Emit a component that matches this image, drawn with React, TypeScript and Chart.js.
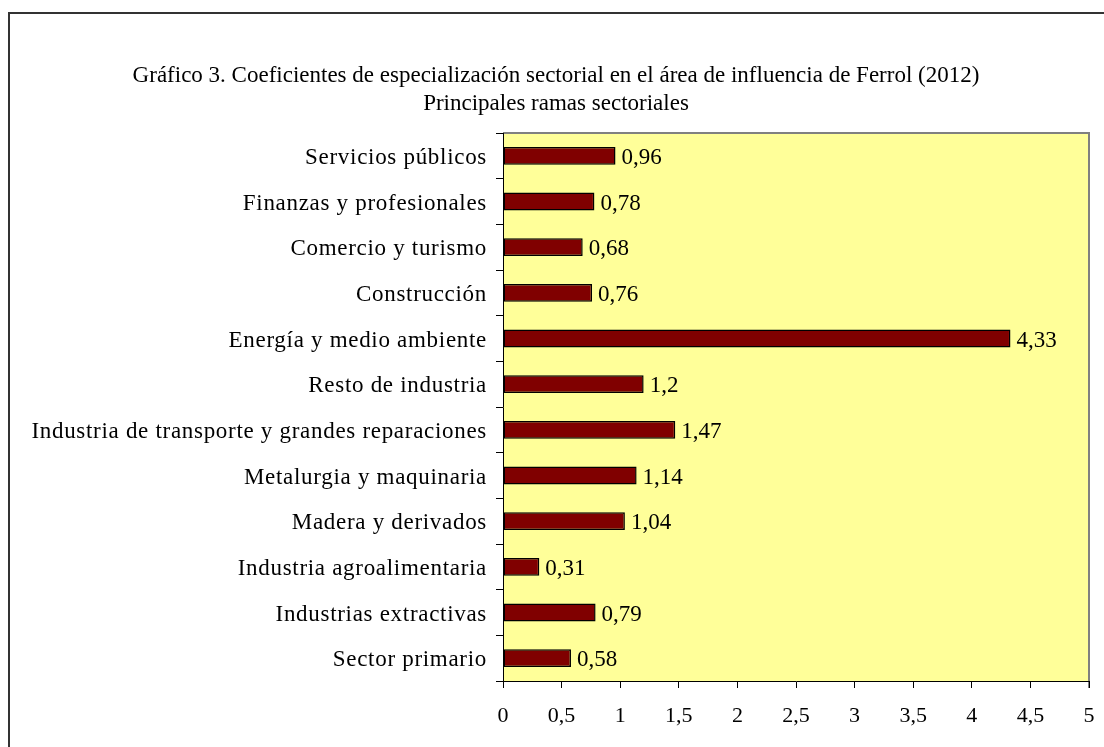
import React, { useEffect, useRef } from "react";
import { Chart, registerables } from "chart.js";

Chart.register(...registerables);

const titleLines = [
  "Gráfico 3. Coeficientes de especialización sectorial en el área de influencia de Ferrol (2012)",
  "Principales ramas sectoriales",
];

const categories = [
  "Servicios públicos",
  "Finanzas y profesionales",
  "Comercio y turismo",
  "Construcción",
  "Energía y medio ambiente",
  "Resto de industria",
  "Industria de transporte y grandes reparaciones",
  "Metalurgia y maquinaria",
  "Madera y derivados",
  "Industria agroalimentaria",
  "Industrias extractivas",
  "Sector primario",
];

const values = [0.96, 0.78, 0.68, 0.76, 4.33, 1.2, 1.47, 1.14, 1.04, 0.31, 0.79, 0.58];

const axisMin = 0;
const axisMax = 5;
const axisStep = 0.5;

const FONT = "'Liberation Serif', 'Times New Roman', serif";

const fmt = (v: number) => String(v).replace(".", ",");

const framePlugin = {
  id: "framePlugin",
  beforeDraw(chart: any) {
    const { ctx, chartArea } = chart;
    const { left, top, right, bottom } = chartArea;
    ctx.save();
    ctx.fillStyle = "#ffffff";
    ctx.fillRect(0, 0, chart.width, chart.height);
    // outer frame
    ctx.strokeStyle = "#333333";
    ctx.lineWidth = 2;
    ctx.strokeRect(9, 13, chart.width + 50, chart.height + 50);
    // plot area
    ctx.fillStyle = "#FFFF99";
    ctx.fillRect(left, top, right - left, bottom - top);
    ctx.strokeStyle = "#808080";
    ctx.lineWidth = 2;
    ctx.beginPath();
    ctx.moveTo(left, top);
    ctx.lineTo(right, top);
    ctx.lineTo(right, bottom + 7);
    ctx.stroke();
    // title
    ctx.fillStyle = "#000000";
    ctx.font = `23px ${FONT}`;
    ctx.textAlign = "center";
    ctx.textBaseline = "middle";
    titleLines.forEach((line, i) => {
      ctx.fillText(line, 556, 76 + i * 28);
    });
    ctx.restore();
  },
};

const valueLabelPlugin = {
  id: "valueLabelPlugin",
  afterDatasetsDraw(chart: any) {
    const { ctx } = chart;
    const meta = chart.getDatasetMeta(0);
    const data = chart.data.datasets[0].data as number[];
    ctx.save();
    ctx.font = `23px ${FONT}`;
    ctx.fillStyle = "#000000";
    ctx.textAlign = "left";
    ctx.textBaseline = "middle";
    meta.data.forEach((el: any, i: number) => {
      ctx.fillText(fmt(data[i]), el.x + 6, el.y + 2);
    });
    ctx.restore();
  },
};

export default function App() {
  const ref = useRef<HTMLCanvasElement | null>(null);

  useEffect(() => {
    if (!ref.current) return;
    const chart = new Chart(ref.current, {
      type: "bar",
      data: {
        labels: categories,
        datasets: [
          {
            data: values,
            backgroundColor: "#800000",
            borderColor: "#000000",
            borderWidth: 1.5,
            borderSkipped: false,
            barPercentage: 0.39,
            categoryPercentage: 1,
          },
        ],
      },
      options: {
        indexAxis: "y",
        responsive: false,
        animation: false,
        devicePixelRatio: 1,
        layout: { padding: { top: 133, left: 0, right: 15, bottom: 0 } },
        plugins: {
          legend: { display: false },
          tooltip: { enabled: false },
          title: { display: false },
        },
        scales: {
          x: {
            type: "linear",
            min: axisMin,
            max: axisMax,
            afterFit(scale: any) {
              scale.height = 66;
              scale.paddingLeft = 0;
              scale.paddingRight = 0;
            },
            ticks: {
              stepSize: axisStep,
              color: "#000000",
              font: { family: FONT, size: 22 },
              padding: 15,
              callback: (v: any) => fmt(Number(v)),
            },
            grid: {
              drawOnChartArea: false,
              drawTicks: true,
              tickLength: 7,
              color: "#000000",
            },
            border: { display: true, color: "#000000", width: 1 },
          },
          y: {
            type: "category",
            afterFit(scale: any) {
              scale.width = 503;
              scale.paddingTop = 0;
              scale.paddingBottom = 0;
              if (!scale._spacedLabels) {
                const orig = scale.drawLabels.bind(scale);
                scale.drawLabels = (area: any) => {
                  const c = scale.ctx;
                  c.save();
                  c.letterSpacing = "0.7px";
                  c.translate(0, 2);
                  orig(area);
                  c.restore();
                };
                scale._spacedLabels = true;
              }
            },
            ticks: {
              color: "#000000",
              font: { family: FONT, size: 23 },
              padding: 9,
            },
            grid: {
              offset: true,
              drawOnChartArea: false,
              drawTicks: true,
              tickLength: 7,
              color: "#000000",
            },
            border: { display: true, color: "#000000", width: 1 },
          },
        },
      },
      plugins: [framePlugin, valueLabelPlugin],
    });
    return () => chart.destroy();
  }, []);

  return (
    <div style={{ position: "absolute", left: 0, top: 0, width: 1104, height: 747 }}>
      <canvas ref={ref} width={1104} height={747} style={{ width: 1104, height: 747, display: "block" }} />
    </div>
  );
}
